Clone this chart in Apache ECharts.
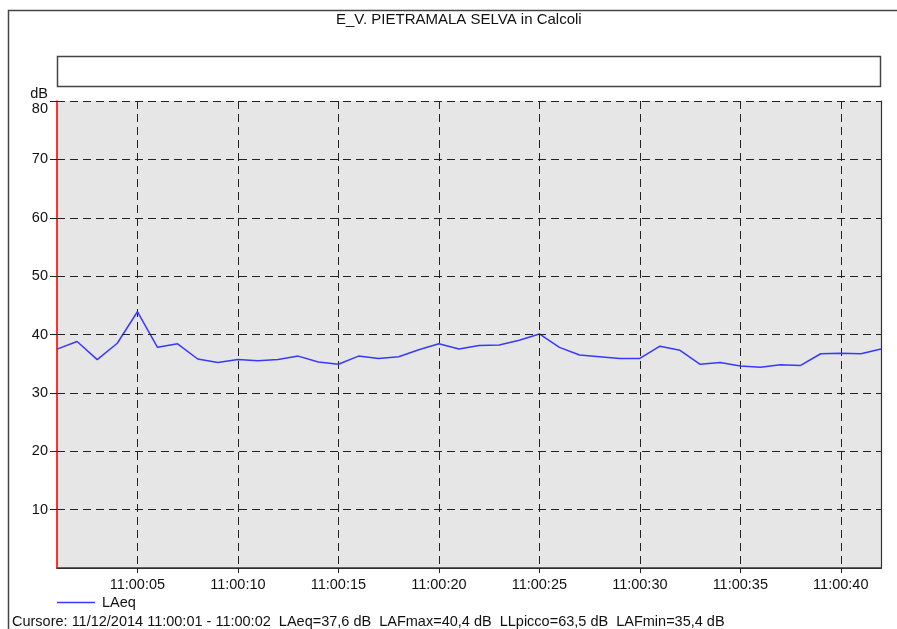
<!DOCTYPE html>
<html>
<head>
<meta charset="utf-8">
<script src="https://cdn.jsdelivr.net/npm/echarts@6/dist/echarts.min.js"></script>
<style>
html,body{margin:0;padding:0;background:#fff;}
#chart{width:897px;height:629px;}
</style>
</head>
<body>
<div id="chart"></div>
<script>
var times = ['11:00:01','11:00:02','11:00:03','11:00:04','11:00:05','11:00:06','11:00:07','11:00:08','11:00:09','11:00:10',
             '11:00:11','11:00:12','11:00:13','11:00:14','11:00:15','11:00:16','11:00:17','11:00:18','11:00:19','11:00:20',
             '11:00:21','11:00:22','11:00:23','11:00:24','11:00:25','11:00:26','11:00:27','11:00:28','11:00:29','11:00:30',
             '11:00:31','11:00:32','11:00:33','11:00:34','11:00:35','11:00:36','11:00:37','11:00:38','11:00:39','11:00:40',
             '11:00:41','11:00:42'];
var laeq = [37.5,38.8,35.7,38.5,43.9,37.8,38.4,35.8,35.2,35.7,
            35.5,35.7,36.3,35.3,34.9,36.3,35.9,36.2,37.4,38.4,
            37.5,38.1,38.2,39.0,40.1,37.8,36.5,36.2,35.9,35.9,
            38.0,37.3,34.9,35.2,34.6,34.4,34.8,34.7,36.7,36.8,
            36.7,37.5];
var labeledTimes = ['11:00:05','11:00:10','11:00:15','11:00:20','11:00:25','11:00:30','11:00:35','11:00:40'];
var yTicks = [10,20,30,40,50,60,70,80];
var titleText = 'E_V. PIETRAMALA SELVA in Calcoli';
var seriesName = 'LAeq';
var cursorText = 'Cursore: 11/12/2014 11:00:01 - 11:00:02  LAeq=37,6 dB  LAFmax=40,4 dB  LLpicco=63,5 dB  LAFmin=35,4 dB';

var FONT = '"Liberation Sans", Arial, sans-serif';
var FS = 14.5;
var chart = echarts.init(document.getElementById('chart'), null, {renderer:'canvas'});
function showAt(idx, val){ return labeledTimes.indexOf(times[idx]) >= 0; }

var option = {
  animation:false,
  backgroundColor:'#ffffff',
  textStyle:{fontFamily:FONT},
  title:{
    text:titleText, left:336, top:12, padding:0,
    textStyle:{fontFamily:FONT, fontSize:15, fontWeight:'normal', color:'#111'}
  },
  legend:{
    data:[{name:seriesName, icon:'rect'}],
    left:57, top:595, padding:0, itemWidth:38, itemHeight:1.5, itemGap:6,
    textStyle:{fontFamily:FONT, fontSize:FS, color:'#111', padding:[0,0,0,2]}
  },
  graphic:[
    {type:'rect', shape:{x:8.5,y:10.5,width:900,height:640}, style:{fill:'none', stroke:'#444', lineWidth:1.5}, z:0},
    {type:'rect', shape:{x:57.5,y:56.5,width:823,height:30}, style:{fill:'#fff', stroke:'#444', lineWidth:1.5}},
    {type:'text', left:12, top:614, style:{text:cursorText, font:FS + 'px ' + FONT, fill:'#111'}}
  ],
  grid:{
    left:57, right:16, top:101, bottom:61,
    show:true, backgroundColor:'#e6e6e6', borderWidth:0
  },
  xAxis:[{
    type:'category', data:times, boundaryGap:false,
    axisLine:{show:true, lineStyle:{color:'#222', width:1.2}},
    axisTick:{show:true, interval:showAt, length:5, lineStyle:{color:'#222'}},
    axisLabel:{interval:showAt, fontSize:FS, color:'#111', margin:9, fontFamily:FONT},
    splitLine:{show:true, interval:showAt, lineStyle:{color:'#222', type:[8,5], width:1}}
  },{
    type:'category', data:times, boundaryGap:false, position:'top',
    axisLine:{show:true, lineStyle:{color:'#333', width:1.5}},
    axisTick:{show:false}, axisLabel:{show:false}, splitLine:{show:false}
  }],
  yAxis:[{
    type:'value', min:0, max:80, interval:10,
    name:'dB', nameLocation:'end', nameGap:0,
    nameTextStyle:{fontFamily:FONT, fontSize:FS, color:'#111', align:'right', padding:[0,9,0,0]},
    axisLine:{show:true, lineStyle:{color:'#ff0000', width:1.6}},
    axisTick:{show:true, length:7, customValues:yTicks, lineStyle:{color:'#222'}},
    axisLabel:{fontSize:FS, color:'#111', margin:9, fontFamily:FONT,
      formatter:function(v){
        if (yTicks.indexOf(v) < 0) return '';
        return v === yTicks[yTicks.length-1] ? '{top|' + v + '}' : String(v);
      },
      rich:{top:{fontSize:FS, color:'#111', fontFamily:FONT, padding:[15,0,0,0]}}
    },
    splitLine:{show:true, lineStyle:{color:'#222', type:[8,5], width:1}},
    z:5
  },{
    type:'value', min:0, max:80, interval:10, position:'right',
    axisLine:{show:true, onZero:false, lineStyle:{color:'#333', width:1.2}},
    axisTick:{show:false}, axisLabel:{show:false}, splitLine:{show:false}
  }],
  series:[{
    name:seriesName, type:'line', data:laeq, showSymbol:false, symbol:'none',
    lineStyle:{color:'#3838ff', width:1.5}, itemStyle:{color:'#3838ff'}
  }]
};
chart.setOption(option);
</script>
</body>
</html>
